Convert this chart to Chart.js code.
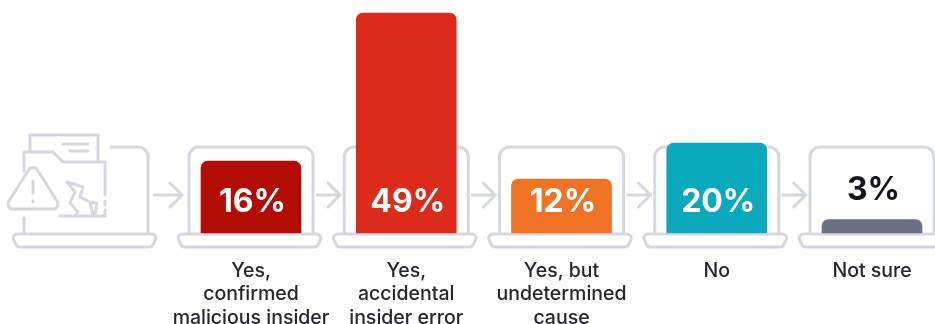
<!DOCTYPE html>
<html>
<head>
<meta charset="utf-8">
<script src="https://cdn.jsdelivr.net/npm/chart.js@4"></script>
<style>
  html, body { margin: 0; padding: 0; background: #fff; overflow: hidden; }
  #wrap { width: 935px; height: 324px; position: relative; }
</style>
</head>
<body>
<div id="wrap"><canvas id="chart" width="935" height="324"></canvas></div>
<script>
const categories = [
  ['Yes,', 'confirmed', 'malicious insider'],
  ['Yes,', 'accidental', 'insider error'],
  ['Yes, but', 'undetermined', 'cause'],
  ['No'],
  ['Not sure']
];
const shares = [16, 49, 12, 20, 3];
const barColors = ['#b30c04', '#dc2a1b', '#f07325', '#0aa9bb', '#6b6f82'];
const labelColors = ['#ffffff', '#ffffff', '#ffffff', '#ffffff', '#15151f'];

const OUTLINE = '#d6d8e1';

function roundedPath(ctx, pts, r) {
  // Closed polygon with rounded corners
  ctx.beginPath();
  const n = pts.length;
  const a0 = pts[n - 1], b0 = pts[0];
  ctx.moveTo((a0[0] + b0[0]) / 2, (a0[1] + b0[1]) / 2);
  for (let i = 0; i < n; i++) {
    const p = pts[i], q = pts[(i + 1) % n];
    ctx.arcTo(p[0], p[1], (p[0] + q[0]) / 2, (p[1] + q[1]) / 2, r);
    ctx.lineTo((p[0] + q[0]) / 2, (p[1] + q[1]) / 2);
  }
  ctx.closePath();
}

function laptopBase(ctx, cx, y) {
  roundedPath(ctx, [[cx - 75, y + 1], [cx + 72, y + 1], [cx + 66, y + 14], [cx - 69, y + 14]], 4);
  ctx.stroke();
}

function laptopScreen(ctx, cx, y) {
  ctx.beginPath();
  ctx.moveTo(cx - 62, y);
  ctx.arcTo(cx - 62, y - 86, cx + 62, y - 86, 10);
  ctx.arcTo(cx + 62, y - 86, cx + 62, y, 10);
  ctx.lineTo(cx + 62, y);
  ctx.stroke();
}

function arrow(ctx, x0, x1, y) {
  ctx.beginPath();
  ctx.moveTo(x0, y);
  ctx.lineTo(x1, y);
  ctx.moveTo(x1 - 12, y - 12);
  ctx.lineTo(x1, y);
  ctx.lineTo(x1 - 12, y + 12);
  ctx.stroke();
}

function polyline(ctx, cx, y, pts) {
  pts.forEach((p, i) => {
    if (i === 0) ctx.moveTo(cx + p[0], y + p[1]);
    else ctx.lineTo(cx + p[0], y + p[1]);
  });
}

// Opening laptop with a broken folder and a warning sign on its screen
function introLaptop(ctx, cx, y) {
  ctx.beginPath();
  // screen, open at the upper left
  ctx.moveTo(cx + 25, y - 86);
  ctx.lineTo(cx + 52, y - 86);
  ctx.arcTo(cx + 62, y - 86, cx + 62, y, 10);
  ctx.lineTo(cx + 62, y);
  polyline(ctx, cx, y, [[-62, 0], [-62, -15]]);
  // sheet behind the folder
  polyline(ctx, cx, y, [[-56, -83], [-56, -98], [12, -98], [12, -73]]);
  polyline(ctx, cx, y, [[-23, -89], [2, -89]]);
  polyline(ctx, cx, y, [[-16, -82], [2, -82]]);
  // folder outline with a gap-toothed right edge
  polyline(ctx, cx, y, [[-62, -62], [-62, -81], [-33, -81], [-23, -71], [19, -71], [19, -38]]);
  polyline(ctx, cx, y, [[19, -32], [19, -28]]);
  polyline(ctx, cx, y, [[19, -23], [19, -17], [-26, -17]]);
  // crack through the folder
  polyline(ctx, cx, y, [[-19, -51], [-11, -41], [-16, -30], [-8, -21], [-11, -17]]);
  polyline(ctx, cx, y, [[-19, -51], [-3, -46], [-6, -36], [4, -31], [7, -17]]);
  polyline(ctx, cx, y, [[4, -31], [11, -30], [9, -17]]);
  ctx.stroke();
  // warning triangle
  roundedPath(ctx, [[cx - 53, y - 70], [cx - 24, y - 24], [cx - 82, y - 24]], 5);
  ctx.stroke();
  ctx.beginPath();
  polyline(ctx, cx, y, [[-53, -52], [-53, -40]]);
  polyline(ctx, cx, y, [[-53, -32], [-53, -31]]);
  ctx.stroke();
}

const laptopsBehindBars = {
  id: 'laptopsBehindBars',
  beforeDatasetsDraw(chart) {
    const { ctx, scales: { x, y } } = chart;
    const base = y.getPixelForValue(0);
    const mid = base - 38;
    const centers = shares.map((_, i) => x.getPixelForValue(i));
    const introCx = centers[0] - 165;
    ctx.save();
    ctx.strokeStyle = OUTLINE;
    ctx.lineWidth = 3;
    ctx.lineCap = 'round';
    ctx.lineJoin = 'round';
    introLaptop(ctx, introCx, base);
    laptopBase(ctx, introCx, base);
    centers.forEach((cx) => {
      laptopScreen(ctx, cx, base);
      laptopBase(ctx, cx, base);
    });
    arrow(ctx, centers[0] - 97, centers[0] - 69, mid);
    centers.forEach((cx, i) => {
      if (i < centers.length - 1) arrow(ctx, cx + 66, cx + 89, mid);
    });
    ctx.restore();
  }
};

const shareLabels = {
  id: 'shareLabels',
  afterDatasetsDraw(chart) {
    const { ctx, scales: { x, y } } = chart;
    const base = y.getPixelForValue(0);
    ctx.save();
    ctx.font = '700 32px Inter';
    ctx.textAlign = 'center';
    ctx.textBaseline = 'middle';
    shares.forEach((v, i) => {
      const top = y.getPixelForValue(v);
      const outside = v < 5;
      ctx.fillStyle = labelColors[i];
      ctx.fillText(v + '%', x.getPixelForValue(i) + 1.5, outside ? top - 29 : base - 31);
    });
    ctx.restore();
  }
};

new Chart(document.getElementById('chart'), {
  type: 'bar',
  data: {
    labels: categories,
    datasets: [{
      data: shares,
      backgroundColor: barColors,
      barThickness: 100,
      borderRadius: { topLeft: 7, topRight: 7, bottomLeft: 0, bottomRight: 0 },
      borderSkipped: false,
      clip: false
    }]
  },
  options: {
    responsive: false,
    animation: false,
    layout: { padding: { left: 251, right: 63, top: 13, bottom: 0 } },
    plugins: { legend: { display: false }, tooltip: { enabled: false } },
    scales: {
      x: {
        offset: false,
        afterFit(scale) {
          scale.height = 91;
          scale.paddingLeft = 0;
          scale.paddingRight = 0;
        },
        grid: { display: false, drawTicks: false },
        border: { display: false },
        ticks: {
          color: '#26262e',
          padding: 26,
          autoSkip: false,
          maxRotation: 0,
          minRotation: 0,
          font: { family: 'Inter', size: 19.5, weight: '500', lineHeight: 1.21 }
        }
      },
      y: {
        display: false,
        min: 0,
        max: 49,
        beginAtZero: true
      }
    }
  },
  plugins: [laptopsBehindBars, shareLabels]
});
</script>
</body>
</html>
